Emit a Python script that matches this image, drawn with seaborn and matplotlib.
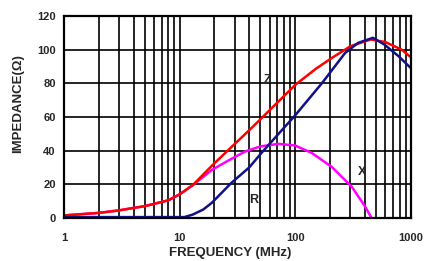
import matplotlib
matplotlib.use('Agg')
import matplotlib.pyplot as plt
import matplotlib.ticker as mticker
import pandas as pd
import seaborn as sns

# impedance curves
z_freq = [1, 2, 3, 5, 8, 10, 13, 19, 27, 42, 60, 100, 150, 207, 300, 450, 600, 830, 1000]
z_vals = [1.5, 3, 4.5, 7, 10.5, 14, 19.5, 31, 41, 53.5, 64, 79, 88.5, 95, 102, 106, 104.5, 100, 95.5]

r_freq = [1, 5, 11, 13, 16, 19, 28, 40, 51, 74, 100, 170, 270, 350, 470, 590, 785, 1000]
r_vals = [0.5, 0.5, 0.5, 2, 5, 9, 20.8, 30, 38.6, 51, 61, 80, 98, 104, 107, 103, 96, 89]

x_freq = [1, 2, 3, 4, 5, 8, 10, 13, 19, 27, 37, 50, 72, 100, 139, 207, 309, 400, 457]
x_vals = [1.5, 3, 4.5, 6, 7, 10.5, 14, 19.5, 28.5, 34.5, 39.5, 42.5, 44, 43, 38.6, 30.3, 18.4, 7, 0]

y_ticks = [0, 20, 40, 60, 80, 100, 120]
x_ticks = [1, 10, 100, 1000]

sns.set_style('white')
plt.rcParams['font.family'] = ['Liberation Sans', 'DejaVu Sans']

fig = plt.figure(figsize=(4.24, 2.61), dpi=100)
ax = fig.add_axes([0.151, 0.165, 0.818, 0.774])

df_z = pd.DataFrame({'f': z_freq, 'imp': z_vals})
df_r = pd.DataFrame({'f': r_freq, 'imp': r_vals})
df_x = pd.DataFrame({'f': x_freq, 'imp': x_vals})

sns.lineplot(data=df_x, x='f', y='imp', ax=ax, color='#ff00ff', linewidth=1.8)
sns.lineplot(data=df_z, x='f', y='imp', ax=ax, color='#ff0000', linewidth=1.8)
sns.lineplot(data=df_r, x='f', y='imp', ax=ax, color='#10108a', linewidth=1.8)

ax.set_xscale('log')
ax.set_xlim(1, 1000)
ax.set_ylim(0, 120)
ax.set_yticks(y_ticks)
ax.set_xticks(x_ticks)
ax.xaxis.set_major_formatter(mticker.FuncFormatter(lambda v, p: '%d' % v))
ax.xaxis.set_minor_locator(mticker.LogLocator(base=10, subs=range(2, 10)))
ax.xaxis.set_minor_formatter(mticker.NullFormatter())

ax.grid(True, which='both', axis='x', color='black', linewidth=1.2)
ax.grid(True, which='major', axis='y', color='black', linewidth=1.2)
ax.set_axisbelow(True)
ax.tick_params(axis='x', which='both', length=0, labelsize=8, pad=11)
ax.tick_params(axis='y', which='both', length=0, labelsize=8, pad=6)
for lab in ax.get_xticklabels() + ax.get_yticklabels():
    lab.set_fontweight('bold')

for s in ax.spines.values():
    s.set_color('black')
    s.set_linewidth(1.6)

ax.set_xlabel('FREQUENCY (MHz)', fontsize=9.5, fontweight='bold')
ax.xaxis.set_label_coords(0.48, -0.145)
ax.set_ylabel('IMPEDANCE(Ω)', fontsize=9.5, fontweight='bold')
ax.yaxis.set_label_coords(-0.115, 0.565)

ax.text(58, 82, 'Z', fontsize=9, fontweight='bold', ha='center', va='center')
ax.text(44, 10.5, 'R', fontsize=9, fontweight='bold', ha='center', va='center')
ax.text(377, 27.5, 'X', fontsize=9, fontweight='bold', ha='center', va='center')

fig.savefig('out.png', dpi=100)
